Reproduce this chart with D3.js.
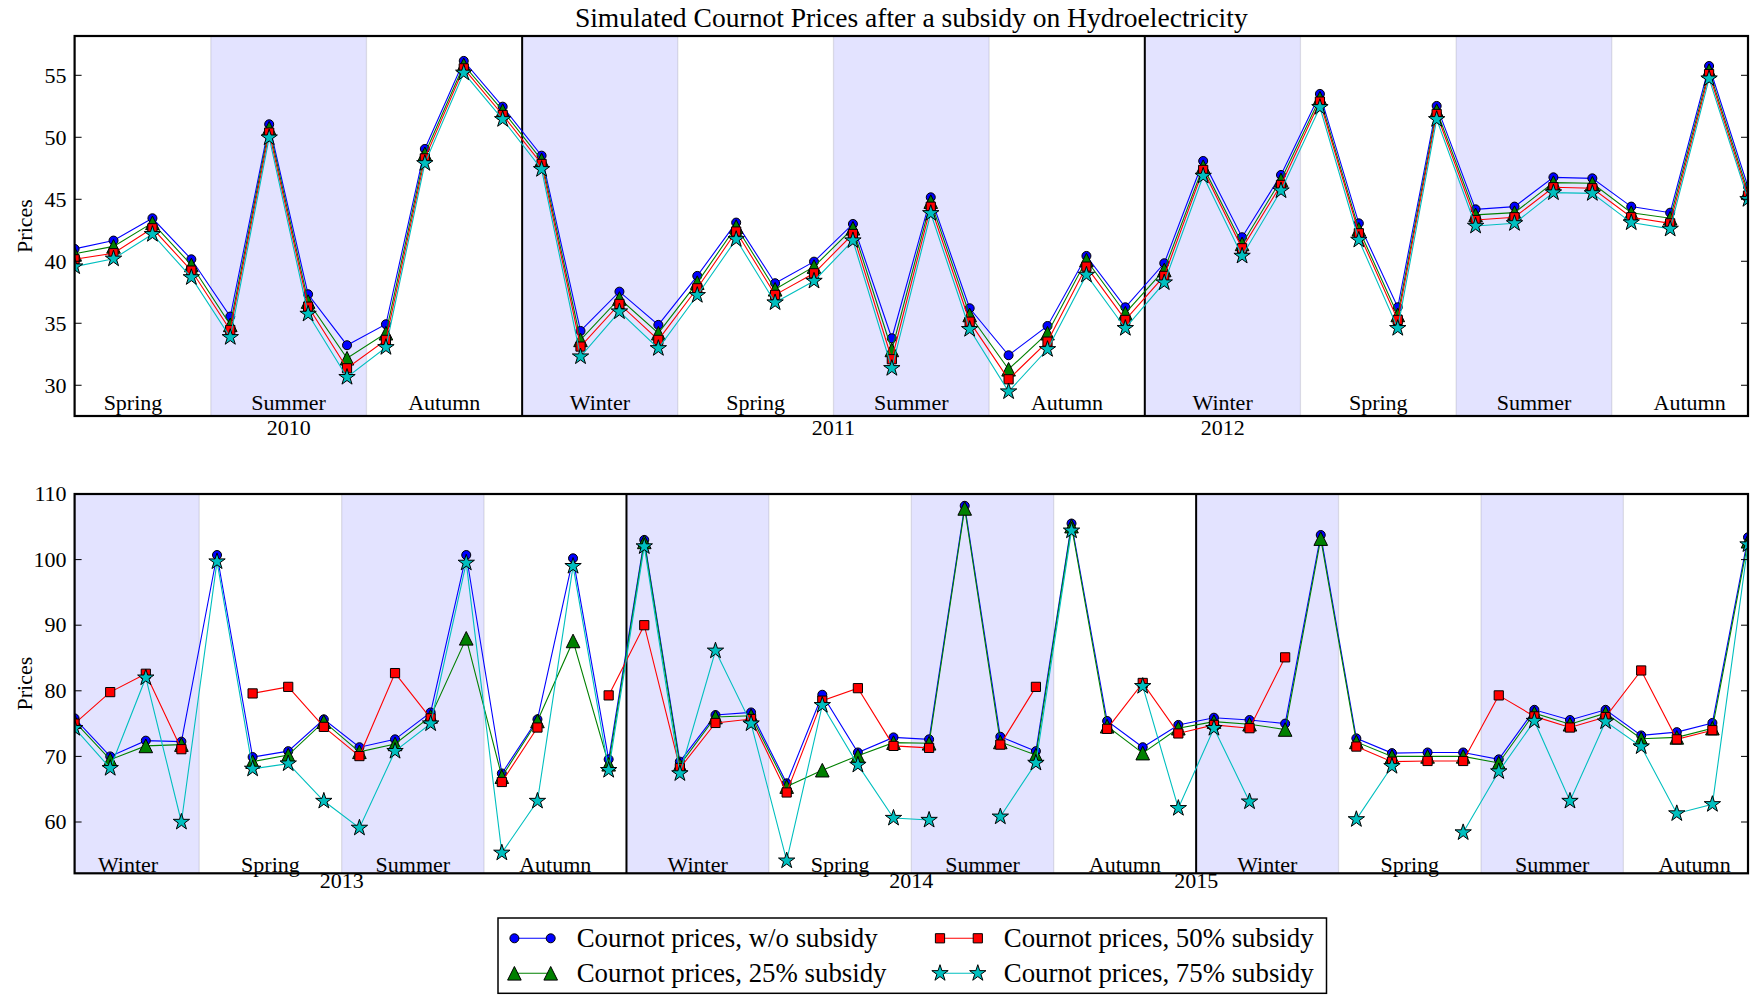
<!DOCTYPE html>
<html><head><meta charset="utf-8">
<script src="https://cdn.jsdelivr.net/npm/d3@7"></script>
<style>
body{margin:0;background:#fff;}
svg{display:block;}
text{font-family:"Liberation Serif","Times New Roman",serif;fill:#000;}
</style>
</head><body>
<svg id="c" width="1750" height="995"></svg>
<script>
// ---------------- DATA ----------------
const seriesNames = ["Cournot prices, w/o subsidy","Cournot prices, 25% subsidy","Cournot prices, 50% subsidy","Cournot prices, 75% subsidy"];

// Top panel (2010-2012), 44 observations
const topNoSubsidy = [41.0,41.67,43.47,40.16,35.54,51.05,37.34,33.23,34.92,49.06,56.16,52.47,48.52,34.38,37.55,34.87,38.82,43.12,38.23,39.97,43.01,33.79,45.16,36.21,32.42,34.78,40.43,36.29,39.84,48.09,41.94,46.96,53.5,43.06,36.29,52.53,44.19,44.41,46.77,46.69,44.41,43.92,55.75,46.0];
const top25 = [40.6,41.2,43.1,39.7,34.87,50.73,36.75,32.18,34.2,48.66,55.83,52.15,48.17,33.66,37.0,34.2,38.28,42.8,37.74,39.57,42.66,32.85,44.81,35.67,31.29,34.2,40.1,35.81,39.3,47.63,41.4,46.56,53.15,42.58,35.67,52.15,43.74,43.92,46.34,46.29,43.92,43.47,55.38,45.6];
const top50 = [40.16,40.65,42.66,39.25,34.46,50.38,36.34,31.37,33.66,48.3,55.56,51.8,47.85,33.12,36.56,33.66,37.82,42.4,37.29,39.03,42.2,32.1,44.4,35.13,30.48,33.52,39.57,35.27,38.82,47.37,41.05,46.16,52.88,42.26,35.27,51.88,43.33,43.55,45.97,45.89,43.55,43.06,55.1,45.3];
const top75 = [39.57,40.2,42.18,38.7,33.87,49.97,35.75,30.65,33.06,47.9,55.2,51.45,47.42,32.31,35.94,32.98,37.26,41.77,36.67,38.41,41.67,31.37,43.87,34.52,29.49,32.9,38.9,34.6,38.28,46.88,40.43,45.7,52.42,41.72,34.6,51.45,42.85,43.06,45.54,45.48,43.12,42.61,54.73,45.0];

// Bottom panel (2013-2015), 48 observations, null = missing
const botNoSubsidy = [75.8,70.0,72.4,72.25,100.7,69.9,70.8,75.65,71.4,72.6,76.7,100.7,67.4,75.65,100.2,69.55,103.0,69.2,76.3,76.7,65.9,79.4,70.6,72.9,72.6,108.2,73.0,70.8,105.5,75.4,71.4,74.8,75.9,75.55,75.0,103.75,72.75,70.5,70.6,70.6,69.55,77.1,75.55,77.1,73.2,73.7,75.1,103.4];
const bot25 = [75.3,69.5,71.6,71.8,null,69.2,70.2,75.3,70.7,71.9,76.1,88.0,66.9,75.4,87.6,68.8,102.7,68.7,76.0,76.2,65.4,67.9,70.1,72.1,72.0,107.8,72.2,70.2,105.1,74.6,70.5,74.3,75.3,74.9,74.1,103.2,72.2,70.0,70.0,70.0,69.0,76.6,74.9,76.6,72.7,72.9,74.3,102.8];
const bot50 = [75.0,79.8,82.6,71.1,null,79.6,80.6,74.5,70.05,82.7,75.8,null,66.1,74.4,null,79.3,90.0,68.2,75.1,75.7,64.5,78.5,80.4,71.6,71.3,null,71.8,80.6,null,74.2,81.2,73.5,74.8,74.3,85.1,null,71.5,69.2,69.3,69.3,79.3,76.1,74.4,76.0,83.1,72.6,74.0,null];
const bot75 = [74.3,68.2,82.0,60.0,99.7,68.1,68.9,63.2,59.1,70.8,75.0,99.5,55.3,63.2,99.0,67.9,102.0,67.4,86.1,75.0,54.1,77.8,68.7,60.6,60.3,null,60.8,69.0,104.4,null,80.7,62.1,74.3,63.1,null,null,60.4,68.5,null,58.4,67.7,75.4,63.2,75.3,71.5,61.3,62.7,102.3];

const topSeasons = ["Spring","Summer","Autumn","Winter","Spring","Summer","Autumn","Winter","Spring","Summer","Autumn"];
const botSeasons = ["Winter","Spring","Summer","Autumn","Winter","Spring","Summer","Autumn","Winter","Spring","Summer","Autumn"];
const topYears = ["2010","2011","2012"];
const topYearPos = [5.5,19.5,29.5];
const botYears = ["2013","2014","2015"];
const botYearPos = [7.5,23.5,31.5];
const topYearBreaks = [11.5,27.5];
const botYearBreaks = [15.5,31.5];
const topTicks = [30,35,40,45,50,55];
const botTicks = [60,70,80,90,100,110];
const topYLim = [27.52,58.17];
const botYLim = [52.18,110];
const topTextY = {season:28, year:26};
const botTextY = {season:52.4, year:50};

// ---------------- STYLE ----------------
const colors = ["#0000ff","#008000","#ff0000","#00bfbf"];
const starPath = (R)=>{const r=R*0.381966;let s="";for(let k=0;k<10;k++){const a=-Math.PI/2+k*Math.PI/5;const rr=k%2?r:R;s+=(k?"L":"M")+(rr*Math.cos(a)).toFixed(2)+","+(rr*Math.sin(a)).toFixed(2);}return s+"Z";};
const markers = [
  "M4.5,0A4.5,4.5,0,1,1,-4.5,0A4.5,4.5,0,1,1,4.5,0Z",
  "M0,-6.8L6.8,6.8L-6.8,6.8Z",
  "M-4.6,-4.6H4.6V4.6H-4.6Z",
  starPath(8.6)
];

const svg = d3.select("#c");
svg.append("rect").attr("width",1750).attr("height",995).attr("fill","#fff");

const panels = [
  {id:"pTop", y0:36, y1:416, series:[topNoSubsidy,top25,top50,top75], seasons:topSeasons, years:topYears, yearPos:topYearPos, breaks:topYearBreaks, ticks:topTicks, ylim:topYLim, ty:topTextY},
  {id:"pBot", y0:494, y1:873.3, series:[botNoSubsidy,bot25,bot50,bot75], seasons:botSeasons, years:botYears, yearPos:botYearPos, breaks:botYearBreaks, ticks:botTicks, ylim:botYLim, ty:botTextY}
];
const X0 = 74.6, X1 = 1748;
const fs = 21;

panels.forEach(p=>{
  const n = p.series[0].length;
  const x = d3.scaleLinear().domain([0,n-1]).range([X0,X1]);
  const y = d3.scaleLinear().domain(p.ylim).range([p.y1,p.y0]);
  const g = svg.append("g");
  g.append("clipPath").attr("id",p.id).append("rect")
    .attr("x",X0).attr("y",p.y0).attr("width",X1-X0).attr("height",p.y1-p.y0);
  const plot = g.append("g").attr("clip-path",`url(#${p.id})`);

  // season shading
  p.seasons.forEach((s,k)=>{
    if(s==="Summer"||s==="Winter"){
      plot.append("rect").attr("x",x(4*k-0.5)).attr("width",x(4*k+3.5)-x(4*k-0.5))
        .attr("y",p.y0-2).attr("height",p.y1-p.y0+4)
        .attr("fill","#0000ff").attr("fill-opacity",0.11)
        .attr("stroke","#000").attr("stroke-opacity",0.1).attr("stroke-width",1.3);
    }
  });
  // year separators
  p.breaks.forEach(b=>{
    plot.append("line").attr("x1",x(b)).attr("x2",x(b)).attr("y1",p.y0).attr("y2",p.y1)
      .attr("stroke","#000").attr("stroke-width",2);
  });
  // series
  p.series.forEach((vals,si)=>{
    const line = d3.line().defined(d=>d!=null).x((d,i)=>x(i)).y(d=>y(d));
    plot.append("path").datum(vals).attr("d",line).attr("fill","none")
      .attr("stroke",colors[si]).attr("stroke-width",1.1);
    plot.selectAll(null).data(vals.map((v,i)=>({v,i})).filter(d=>d.v!=null)).enter()
      .append("path").attr("d",markers[si])
      .attr("transform",d=>`translate(${x(d.i)},${y(d.v)})`)
      .attr("fill",colors[si]).attr("stroke","#000").attr("stroke-width",1);
  });
  // season labels
  p.seasons.forEach((s,k)=>{
    g.append("text").attr("x",x(4*k+1.5)).attr("y",y(p.ty.season))
      .attr("text-anchor","middle").attr("font-size",fs+1).text(s);
  });
  // year labels
  p.years.forEach((yr,k)=>{
    g.append("text").attr("x",x(p.yearPos[k])).attr("y",y(p.ty.year))
      .attr("text-anchor","middle").attr("font-size",fs+1).text(yr);
  });
  // ticks
  p.ticks.forEach(t=>{
    const yy = y(t);
    g.append("line").attr("x1",X0).attr("x2",X0+7).attr("y1",yy).attr("y2",yy).attr("stroke","#000").attr("stroke-width",1);
    g.append("line").attr("x1",X1-7).attr("x2",X1).attr("y1",yy).attr("y2",yy).attr("stroke","#000").attr("stroke-width",1);
    g.append("text").attr("x",X0-8).attr("y",yy).attr("dy","0.33em")
      .attr("text-anchor","end").attr("font-size",fs+1).text(t);
  });
  // frame
  g.append("rect").attr("x",X0).attr("y",p.y0).attr("width",X1-X0).attr("height",p.y1-p.y0)
    .attr("fill","none").attr("stroke","#000").attr("stroke-width",2.2);
  // y label
  g.append("text").attr("transform",`translate(32,${(p.y0+p.y1)/2}) rotate(-90)`)
    .attr("text-anchor","middle").attr("font-size",fs+1).text("Prices");
});

// title
function fit(sel, target){
  const w = sel.node().getComputedTextLength();
  const f = parseFloat(sel.attr("font-size"));
  sel.attr("font-size", (f*target/w).toFixed(2));
}
const title = svg.append("text").attr("x",(X0+X1)/2).attr("y",26.5).attr("text-anchor","middle")
  .attr("font-size",26).text("Simulated Cournot Prices after a subsidy on Hydroelectricity");
fit(title, 673);

// legend
const lg = svg.append("g");
lg.append("rect").attr("x",498).attr("y",918).attr("width",828.5).attr("height",75.3)
  .attr("fill","#fff").attr("stroke","#000").attr("stroke-width",1.5);
const legPos = [
  {hx:[514.4,550.7], tx:576.7, y:938.3},
  {hx:[514.4,550.7], tx:576.7, y:973.3},
  {hx:[940,977.8], tx:1003.8, y:938.3},
  {hx:[940,977.8], tx:1003.8, y:973.3}
];
let legFont = null;
seriesNames.forEach((nm,si)=>{
  const L = legPos[si];
  lg.append("line").attr("x1",L.hx[0]).attr("x2",L.hx[1]).attr("y1",L.y).attr("y2",L.y)
    .attr("stroke",colors[si]).attr("stroke-width",1.1);
  L.hx.forEach(hx=>{
    lg.append("path").attr("d",markers[si]).attr("transform",`translate(${hx},${L.y})`)
      .attr("fill",colors[si]).attr("stroke","#000").attr("stroke-width",1);
  });
  const t = lg.append("text").attr("x",L.tx).attr("y",L.y).attr("dy","0.33em")
    .attr("font-size",22).text(nm);
  if(si===0){ fit(t,301); legFont = t.attr("font-size"); } else t.attr("font-size",legFont);
});
</script>
</body></html>
